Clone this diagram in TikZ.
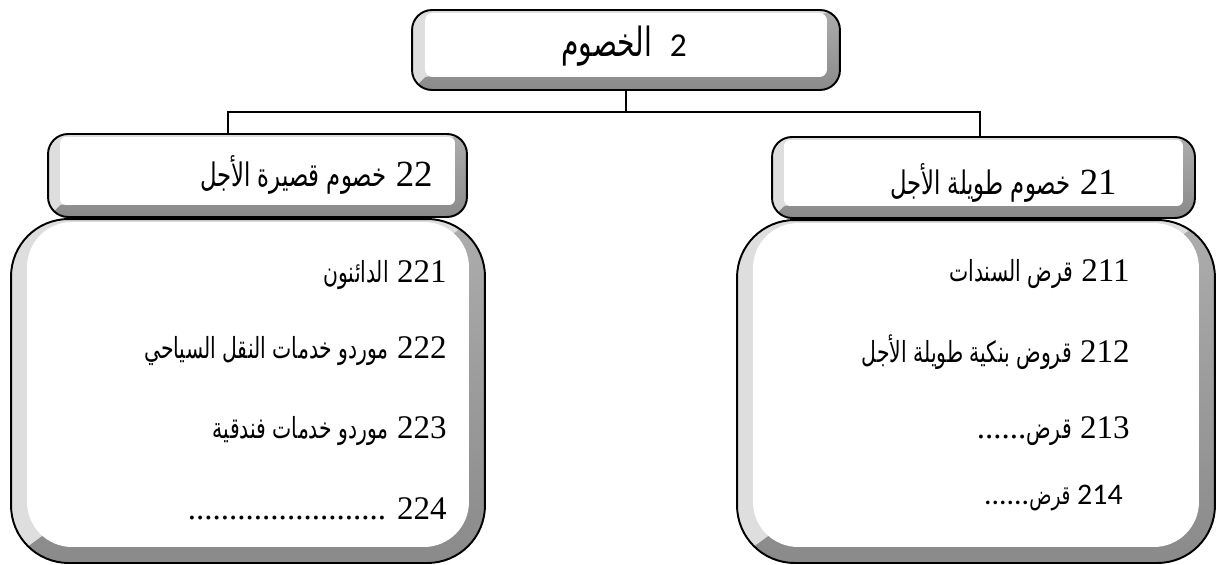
\documentclass[tikz,border=0pt]{standalone}
\usepackage{fontspec}
\setmainfont{Liberation Serif}
\newfontfamily\arabicfont[Script=Arabic,Scale=0.88,FakeStretch=0.7]{DejaVu Sans}
\newfontfamily\califont{Carlito}
\TeXXeTstate=1
\usetikzlibrary{calc}
\definecolor{bevlight}{HTML}{DEDEDE}
\definecolor{bevmid}{HTML}{ADADAD}
\definecolor{bevdark}{HTML}{8A8A8A}
\newcommand{\artxt}[1]{{\arabicfont\beginR #1\endR}}
\tikzset{
  bevel/.style n args={3}{draw=black, line width=1.1pt, rounded corners=#1, inner sep=0pt,
    path picture={
      \shade[sharp corners, top color=bevmid, bottom color=bevdark] (path picture bounding box.south west) rectangle (path picture bounding box.north east);
      \fill[sharp corners, bevlight] (path picture bounding box.south west) -- (path picture bounding box.north west) -- (path picture bounding box.north east) -- ([shift={(-#2,-0.06cm)}]path picture bounding box.north east) -- ([shift={(#2,#2)}]path picture bounding box.south west) -- cycle;
      \fill[white, rounded corners=#3] ([shift={(#2,#2)}]path picture bounding box.south west) rectangle ([shift={(-#2,-0.06cm)}]path picture bounding box.north east);
    }},
}

\begin{document}
\begin{tikzpicture}[x=0.02cm,y=-0.02cm,
  item/.style={anchor=east, inner sep=0pt, font=\fontsize{18.8}{22}\selectfont},
  head/.style={anchor=east, inner sep=0pt, font=\fontsize{21}{24}\selectfont},
  link/.style={line width=1.1pt}]
\useasboundingbox (0,0) rectangle (1218,565);

\node[bevel={0.4cm}{0.26cm}{0.15cm}, minimum width=8.56cm, minimum height=1.6cm] (top) at (626,50) {};
\node[bevel={0.4cm}{0.24cm}{0.12cm}, minimum width=8.38cm, minimum height=1.66cm] (hdrL) at (257.5,175.5) {};
\node[bevel={0.4cm}{0.24cm}{0.12cm}, minimum width=8.46cm, minimum height=1.62cm] (hdrR) at (983.5,177.5) {};
\node[bevel={1.15cm}{0.32cm}{0.9cm}, minimum width=9.48cm, minimum height=6.88cm] (bigL) at (248,391) {};
\node[bevel={1.15cm}{0.32cm}{0.9cm}, minimum width=9.56cm, minimum height=6.86cm] (bigR) at (976,391.5) {};

\node[item, anchor=center, font=\fontsize{26}{30}\selectfont] (tname) at (624,46) {\artxt{الخصوم}\hspace{0.35cm}{\califont\fontsize{19}{22}\selectfont 2}};
\node[head] (hnameL) at (433,175) {\artxt{خصوم قصيرة الأجل} 22};
\node[head] (hnameR) at (1117,183) {\artxt{خصوم طويلة الأجل} 21};

\node[item] (l1) at (447,275) {\artxt{الدائنون} 221};
\node[item] (l2) at (447,351) {\artxt{موردو خدمات النقل السياحي} 222};
\node[item] (l3) at (447,431) {\artxt{موردو خدمات فندقية} 223};
\node[item] (l4) at (447,509) {........................ 224};

\node[item] (r1) at (1130,274) {\artxt{قرض السندات} 211};
\node[item] (r2) at (1130,352) {\artxt{قروض بنكية طويلة الأجل} 212};
\node[item] (r3) at (1130,431) {......\artxt{قرض} 213};
\node[item, font=\califont\fontsize{17}{20}\selectfont] (r4) at (1123,498) {......\artxt{قرض} 214};

\coordinate (hub) at (626,112);
\coordinate (jL) at (228,112);
\coordinate (jR) at (980,112);
\draw[link] (top.south -| hub) -- (hub);
\draw[link] (jL |- hdrL.north) -- (jL) -- (jR) -- (jR |- hdrR.north);
\end{tikzpicture}
\end{document}
